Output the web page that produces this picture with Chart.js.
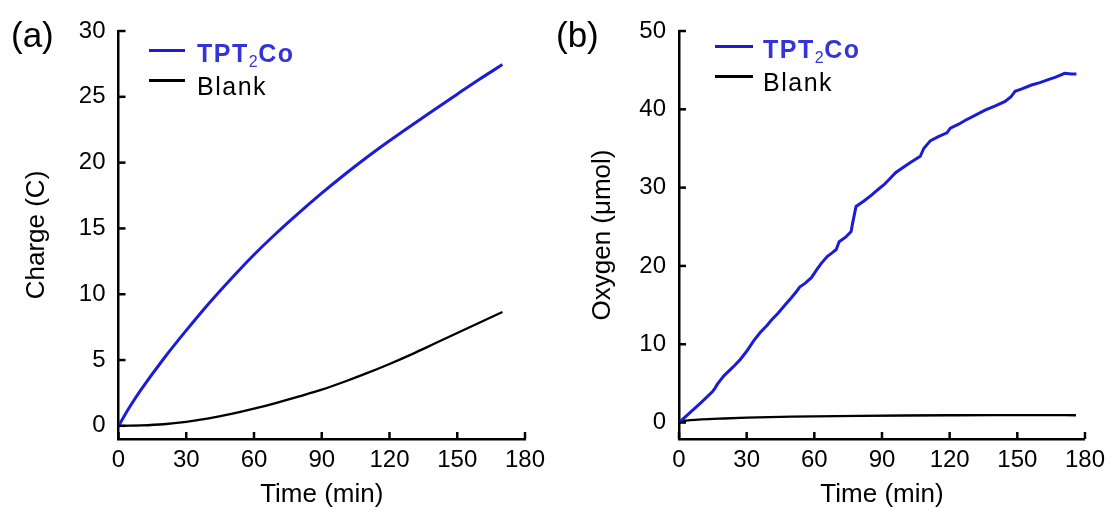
<!DOCTYPE html>
<html>
<head>
<meta charset="utf-8">
<script src="https://cdn.jsdelivr.net/npm/chart.js@4"></script>
<style>
  body { margin: 0; background: #fff; font-family: "Liberation Sans", Arial, sans-serif; }
  #wrap { position: relative; width: 1112px; height: 512px; }
  .panel { position: absolute; top: 0; width: 556px; height: 512px; }
  .tag { position: absolute; font-size: 35px; line-height: 35px; color: #000; }
  .leg { position: absolute; font-size: 25px; line-height: 28px; letter-spacing: 1.5px; white-space: nowrap; }
  .leg i { position: absolute; height: 3px; }
  .leg sub { font-size: 16px; font-weight: normal; vertical-align: -5px; line-height: 0; letter-spacing: 0.5px; }
</style>
</head>
<body>
<div id="wrap">
  <div class="panel" style="left:0"><canvas id="chartA"></canvas></div>
  <div class="panel" style="left:556px"><canvas id="chartB"></canvas></div>

  <div class="tag" style="left:11px;top:17px">(a)</div>
  <div class="tag" style="left:556px;top:17px">(b)</div>

  <div class="leg" data-top="10" data-w="36" style="left:197px;top:39px;color:#3434d8;font-weight:bold">TPT<sub>2</sub>Co</div>
  <div class="leg" data-top="7" data-w="36" style="left:197px;top:72px;color:#000">Blank</div>
  <div class="leg" data-top="10" data-w="38" style="left:763px;top:35px;color:#3434d8;font-weight:bold">TPT<sub>2</sub>Co</div>
  <div class="leg" data-top="7" data-w="38" style="left:763px;top:68px;color:#000">Blank</div>
</div>

<script>
// (a) charge vs time
const timeA = [0, 5, 10, 20, 30, 40, 50, 60, 70, 80, 90, 100, 110, 120, 130, 140, 150, 160, 170];
const chargeTPT = [0, 1.45, 2.75, 5.1, 7.25, 9.3, 11.2, 13.0, 14.65, 16.2, 17.68, 19.08, 20.41, 21.66, 22.86, 24.04, 25.2, 26.35, 27.45];
const chargeBlank = [0, 0.01, 0.03, 0.12, 0.3, 0.56, 0.9, 1.3, 1.75, 2.24, 2.75, 3.35, 4.0, 4.7, 5.45, 6.25, 7.05, 7.85, 8.65];

// (b) oxygen vs time
const timeB = [0, 5, 10, 15, 16, 17, 20, 24, 27, 30, 33, 36, 39, 41, 44, 47, 50, 52, 53.5, 56, 58.7, 61, 63, 65.7, 68, 69.7, 71, 74, 76.3, 77, 78.5, 82, 85.6, 88, 91, 94, 96, 99, 102.6, 107, 108.5, 111.5, 115, 118.8, 120.3, 124, 127, 131, 135.7, 140, 144.6, 147.2, 149, 152, 156.3, 160, 163.7, 167, 171, 174, 176.2];
const oxygenTPT = [0, 1.3, 2.6, 4.0, 4.4, 4.9, 6.0, 7.1, 8.0, 9.1, 10.4, 11.5, 12.4, 13.1, 14.0, 15.0, 16.0, 16.7, 17.3, 17.8, 18.5, 19.5, 20.3, 21.2, 21.7, 22.1, 23.1, 23.7, 24.4, 25.5, 27.6, 28.3, 29.1, 29.7, 30.4, 31.3, 31.9, 32.5, 33.2, 34.0, 35.0, 36.0, 36.5, 37.0, 37.6, 38.1, 38.6, 39.2, 39.9, 40.4, 41.0, 41.6, 42.3, 42.6, 43.1, 43.4, 43.8, 44.1, 44.6, 44.5, 44.5];
const timeBlankB = [0, 2, 5, 10, 20, 30, 40, 50, 60, 80, 100, 120, 140, 160, 176];
const oxygenBlank = [0, 0.2, 0.3, 0.4, 0.52, 0.62, 0.7, 0.76, 0.8, 0.86, 0.9, 0.93, 0.95, 0.95, 0.93];

const xTicks = [0, 30, 60, 90, 120, 150, 180];
const yTicksA = [0, 5, 10, 15, 20, 25, 30];
const yTicksB = [0, 10, 20, 30, 40, 50];

const blue = "#1c1cd6";

Chart.defaults.font.family = "'Liberation Sans', Arial, sans-serif";
Chart.defaults.font.size = 24;
Chart.defaults.color = "#000";

const toPoints = (xs, ys) => xs.map((x, i) => ({ x: x, y: ys[i] }));

// ticks pointing into the plot
const inwardTicks = {
  id: "inwardTicks",
  afterDatasetsDraw(chart) {
    const { ctx, chartArea, scales } = chart;
    ctx.save();
    ctx.strokeStyle = "#000";
    ctx.lineWidth = 2.5;
    scales.x.ticks.forEach((t) => {
      const px = scales.x.getPixelForValue(t.value);
      ctx.beginPath();
      ctx.moveTo(px, chartArea.bottom);
      ctx.lineTo(px, chartArea.bottom - 7);
      ctx.stroke();
    });
    scales.y.ticks.forEach((t) => {
      const py = scales.y.getPixelForValue(t.value);
      ctx.beginPath();
      ctx.moveTo(chartArea.left, py);
      ctx.lineTo(chartArea.left + 7, py);
      ctx.stroke();
    });
    ctx.restore();
  },
};

const makeConfig = (datasets, yMin, yMax, yTicks, yTitle, yWidth, yTitlePad, padRight) => {
  return {
    type: "line",
    data: { datasets: datasets },
    options: {
      responsive: true,
      maintainAspectRatio: false,
      animation: false,
      layout: { padding: { top: 31, right: padRight, left: 0, bottom: 0 } },
      plugins: { legend: { display: false }, tooltip: { enabled: false } },
      elements: { point: { radius: 0 } },
      scales: {
        x: {
          type: "linear",
          min: 0,
          max: 180,
          afterBuildTicks: (scale) => {
            scale.ticks = xTicks.map((v) => ({ value: v }));
          },
          afterFit: (scale) => {
            scale.height = 73;
          },
          grid: { display: false, drawTicks: false },
          border: { color: "#000", width: 2.5 },
          ticks: { padding: 7, maxRotation: 0 },
          title: { display: true, text: "Time (min)", font: { size: 26 }, padding: { top: 0, bottom: 1.5 } },
        },
        y: {
          min: yMin,
          max: yMax,
          afterBuildTicks: (scale) => {
            scale.ticks = yTicks.map((v) => ({ value: v }));
          },
          afterFit: (scale) => {
            scale.width = yWidth;
          },
          grid: { display: false, drawTicks: false },
          border: { color: "#000", width: 2.5 },
          ticks: { padding: 13 },
          title: { display: true, text: yTitle, font: { size: 26 }, padding: { top: yTitlePad, bottom: 0 } },
        },
      },
    },
    plugins: [inwardTicks],
  };
};

const configA = makeConfig(
  [
    {
      label: "TPT2Co",
      data: toPoints(timeA, chargeTPT),
      borderColor: blue,
      borderWidth: 3,
      cubicInterpolationMode: "monotone",
    },
    {
      label: "Blank",
      data: toPoints(timeA, chargeBlank),
      borderColor: "#000",
      borderWidth: 2.3,
      cubicInterpolationMode: "monotone",
    },
  ],
  -1, 30, yTicksA, "Charge (C)", 118.5, 21, 31
);

const configB = makeConfig(
  [
    {
      label: "TPT2Co",
      data: toPoints(timeB, oxygenTPT),
      borderColor: blue,
      borderWidth: 3,
      tension: 0,
    },
    {
      label: "Blank",
      data: toPoints(timeBlankB, oxygenBlank),
      borderColor: "#000",
      borderWidth: 2.3,
      cubicInterpolationMode: "monotone",
    },
  ],
  -2.1, 50, yTicksB, "Oxygen (\u03bcmol)", 123, 31, 26
);

const chartA = new Chart(document.getElementById("chartA").getContext("2d"), configA);
const chartB = new Chart(document.getElementById("chartB").getContext("2d"), configB);

// legend sample lines
document.querySelectorAll(".leg").forEach((el, i) => {
  const line = document.createElement("i");
  line.style.left = "-48px";
  line.style.width = el.dataset.w + "px";
  line.style.top = el.dataset.top + "px";
  line.style.background = i % 2 === 0 ? blue : "#000";
  el.appendChild(line);
});
</script>
</body>
</html>
